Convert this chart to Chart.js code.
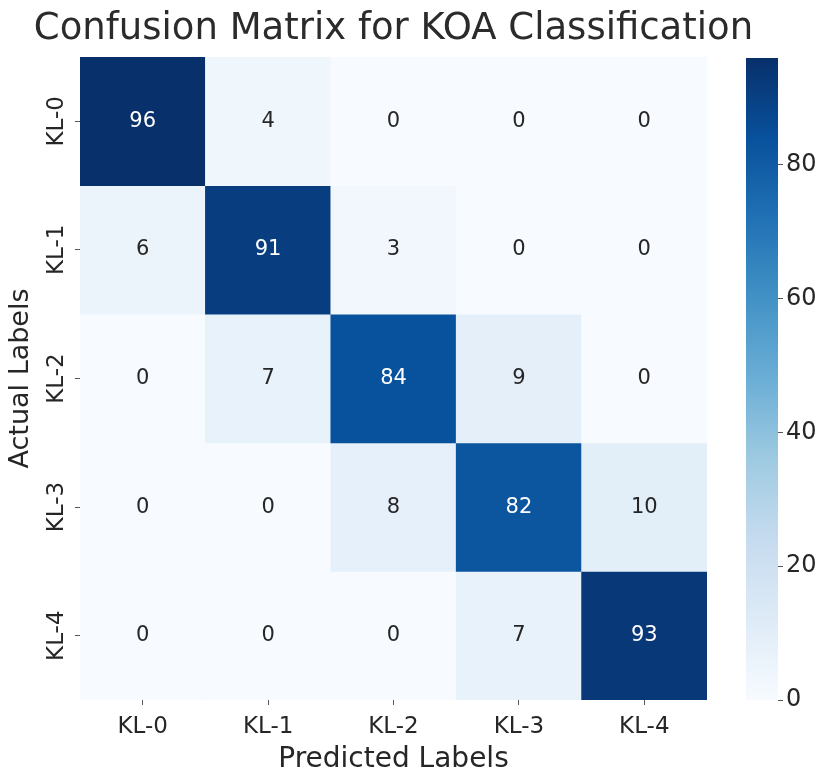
<!DOCTYPE html>
<html>
<head>
<meta charset="utf-8">
<title>Confusion Matrix for KOA Classification</title>
<script src="https://cdn.jsdelivr.net/npm/chart.js@4.4.1/dist/chart.umd.min.js"></script>
<style>
  html, body { margin: 0; padding: 0; background: #ffffff; }
  #wrap { position: relative; width: 825px; height: 772px; overflow: hidden; }
  #wrap canvas { position: absolute; top: 0; }
  #matrix { left: 0; }
  #colorbar { left: 740px; }
</style>
</head>
<body>
<div id="wrap">
  <canvas id="matrix" width="787" height="772"></canvas>
  <canvas id="colorbar" width="85" height="772"></canvas>
</div>
<script>
// Class names (rows = actual grade, columns = predicted grade)
const actualLabels = ['KL-0', 'KL-1', 'KL-2', 'KL-3', 'KL-4'];
const predictedLabels = ['KL-0', 'KL-1', 'KL-2', 'KL-3', 'KL-4'];

// Counts per actual class, in predicted-class order
const actualKL0 = [96, 4, 0, 0, 0];
const actualKL1 = [6, 91, 3, 0, 0];
const actualKL2 = [0, 7, 84, 9, 0];
const actualKL3 = [0, 0, 8, 82, 10];
const actualKL4 = [0, 0, 0, 7, 93];
const matrixRows = [actualKL0, actualKL1, actualKL2, actualKL3, actualKL4];

// Colour bar tick values
const colorbarTicks = [0, 20, 40, 60, 80];

const chartTitle = 'Confusion Matrix for KOA Classification';

const FONT = "'DejaVu Sans', 'Liberation Sans', sans-serif";
const TEXT_DARK = '#262626';

// "Blues" sequential colour map stops
const BLUES = [
  [247, 251, 255], [222, 235, 247], [198, 219, 239], [158, 202, 225],
  [107, 174, 214], [66, 146, 198], [33, 113, 181], [8, 81, 156], [8, 48, 107]
];

function bluesRGB(t) {
  t = Math.max(0, Math.min(1, t));
  const pos = t * (BLUES.length - 1);
  const i = Math.min(Math.floor(pos), BLUES.length - 2);
  const f = pos - i;
  const a = BLUES[i], b = BLUES[i + 1];
  return [0, 1, 2].map(k => a[k] + (b[k] - a[k]) * f);
}
function rgbStr(c) {
  return 'rgb(' + c.map(v => Math.round(v)).join(',') + ')';
}
function luminance(c) {
  const lin = c.map(v => {
    v = v / 255;
    return v <= 0.03928 ? v / 12.92 : Math.pow((v + 0.055) / 1.055, 2.4);
  });
  return 0.2126 * lin[0] + 0.7152 * lin[1] + 0.0722 * lin[2];
}

const allValues = matrixRows.flat();
const vmin = 0;
const vmax = Math.max(...allValues);
const norm = v => (v - vmin) / (vmax - vmin);

// One floating-bar dataset per actual-class row; each bar spans [row, row + 1]
const datasets = matrixRows.map((row, r) => ({
  label: actualLabels[r],
  data: row.map(() => [r, r + 1]),
  counts: row,
  backgroundColor: row.map(v => rgbStr(bluesRGB(norm(v)))),
  borderWidth: 0,
  barPercentage: 1.0,
  categoryPercentage: 1.0,
  grouped: false
}));

// Writes each count in the middle of its cell
const cellText = {
  id: 'cellText',
  afterDatasetsDraw(chart) {
    const { ctx, scales: { x, y } } = chart;
    ctx.save();
    ctx.font = '21px ' + FONT;
    ctx.textAlign = 'center';
    ctx.textBaseline = 'middle';
    chart.data.datasets.forEach((ds, r) => {
      ds.counts.forEach((v, c) => {
        const col = bluesRGB(norm(v));
        ctx.fillStyle = luminance(col) > 0.408 ? TEXT_DARK : '#ffffff';
        ctx.fillText(String(v), x.getPixelForValue(c), y.getPixelForValue(r + 0.5));
      });
    });
    ctx.restore();
  }
};

// Row labels, written bottom-to-top beside the left tick marks
const rowLabels = {
  id: 'rowLabels',
  afterDraw(chart) {
    const { ctx, scales: { y } } = chart;
    ctx.save();
    ctx.font = '23px ' + FONT;
    ctx.fillStyle = TEXT_DARK;
    ctx.textAlign = 'center';
    ctx.textBaseline = 'middle';
    actualLabels.forEach((lab, i) => {
      const py = y.getPixelForValue(i + 0.5);
      ctx.save();
      ctx.translate(y.right - 23, py);
      ctx.rotate(-Math.PI / 2);
      ctx.fillText(lab, 0, 0);
      ctx.restore();
    });
    ctx.restore();
  }
};

// Title centred over the matrix itself (not over the whole canvas)
const matrixTitle = {
  id: 'matrixTitle',
  afterDraw(chart) {
    const { ctx, chartArea } = chart;
    ctx.save();
    ctx.font = '37px ' + FONT;
    ctx.fillStyle = '#2b2b2b';
    ctx.textAlign = 'center';
    ctx.textBaseline = 'middle';
    ctx.fillText(chartTitle, (chartArea.left + chartArea.right) / 2, chartArea.top - 28);
    ctx.restore();
  }
};

new Chart(document.getElementById('matrix'), {
  type: 'bar',
  data: { labels: predictedLabels, datasets },
  plugins: [cellText, rowLabels, matrixTitle],
  options: {
    responsive: false,
    animation: false,
    layout: { padding: { left: 0, right: 80, top: 57, bottom: 0 } },
    plugins: {
      legend: { display: false },
      tooltip: { enabled: false },
      title: { display: false }
    },
    scales: {
      x: {
        type: 'category',
        offset: true,
        grid: { display: true, offset: false, drawOnChartArea: false, drawTicks: true, tickLength: 5, color: '#555555' },
        border: { display: false },
        ticks: { color: TEXT_DARK, font: { family: FONT, size: 23 }, padding: 8, maxRotation: 0 },
        title: {
          display: true,
          text: 'Predicted Labels',
          color: TEXT_DARK,
          font: { family: FONT, size: 28, weight: 'normal', lineHeight: 1.2 },
          padding: { top: 0, bottom: -5 }
        },
        afterFit(scale) { scale.height = 72; }
      },
      y: {
        type: 'linear',
        min: 0,
        max: matrixRows.length,
        reverse: true,
        afterBuildTicks(scale) {
          scale.ticks = actualLabels.map((_, i) => ({ value: i + 0.5 }));
        },
        grid: { display: true, drawOnChartArea: false, drawTicks: true, tickLength: 5, color: '#555555' },
        border: { display: false },
        ticks: { display: false },
        title: {
          display: true,
          text: 'Actual Labels',
          color: TEXT_DARK,
          font: { family: FONT, size: 27, weight: 'normal', lineHeight: 1.2 },
          padding: { top: 5, bottom: 0 }
        },
        afterFit(scale) { scale.width = 80; }
      }
    }
  }
});

// Colour bar: a single floating bar spanning the full value range, filled with the map
new Chart(document.getElementById('colorbar'), {
  type: 'bar',
  data: {
    labels: ['scale'],
    datasets: [{
      data: [[vmin, vmax]],
      backgroundColor(context) {
        const area = context.chart.chartArea;
        if (!area) return rgbStr(bluesRGB(0.5));
        const ys = context.chart.scales.y;
        const g = context.chart.ctx.createLinearGradient(0, ys.getPixelForValue(vmin), 0, ys.getPixelForValue(vmax));
        BLUES.forEach((c, i) => g.addColorStop(i / (BLUES.length - 1), rgbStr(c)));
        return g;
      },
      borderWidth: 0,
      barPercentage: 1.0,
      categoryPercentage: 1.0
    }]
  },
  options: {
    responsive: false,
    animation: false,
    layout: { padding: { left: 6, right: 0, top: 58, bottom: 72 } },
    plugins: { legend: { display: false }, tooltip: { enabled: false }, title: { display: false } },
    scales: {
      x: { display: false, offset: true },
      y: {
        type: 'linear',
        position: 'right',
        min: vmin,
        max: vmax,
        afterBuildTicks(scale) {
          scale.ticks = colorbarTicks.map(v => ({ value: v }));
        },
        grid: { display: true, drawOnChartArea: false, drawTicks: true, tickLength: 5, color: '#555555' },
        border: { display: false },
        ticks: { color: TEXT_DARK, font: { family: FONT, size: 24 }, padding: 3 },
        afterFit(scale) { scale.width = 47; }
      }
    }
  }
});
</script>
</body>
</html>
